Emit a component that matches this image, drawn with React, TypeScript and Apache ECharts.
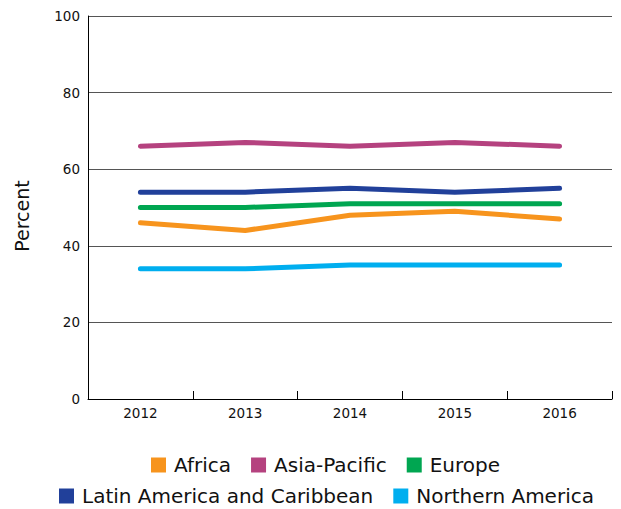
import React, { useEffect, useRef } from "react";
import * as echarts from "echarts";

const years = ["2012", "2013", "2014", "2015", "2016"];
const africa = [46, 44, 48, 49, 47];
const asiaPacific = [66, 67, 66, 67, 66];
const europe = [50, 50, 51, 51, 51];
const latinAmerica = [54, 54, 55, 54, 55];
const northernAmerica = [34, 34, 35, 35, 35];
const yAxisTitle = "Percent";

const seriesDefs = [
  { name: "Africa", data: africa, color: "#F7941D" },
  { name: "Asia-Pacific", data: asiaPacific, color: "#B5427F" },
  { name: "Europe", data: europe, color: "#00A651" },
  { name: "Latin America and Caribbean", data: latinAmerica, color: "#21409A" },
  { name: "Northern America", data: northernAmerica, color: "#00AEEF" },
];

const FONT = "'DejaVu Sans', 'Open Sans', sans-serif";

export default function App() {
  const ref = useRef<HTMLDivElement>(null);
  useEffect(() => {
    if (!ref.current) return;
    const chart = echarts.init(ref.current, undefined, { renderer: "svg" });
    const legendText = { fontSize: 20, color: "#111", fontFamily: FONT, padding: [0, 0, 0, 3] };
    chart.setOption({
      animation: false,
      grid: { left: 88, right: 9, top: 16, bottom: 110, containLabel: false },
      graphic: [
        {
          type: "text",
          x: 22,
          y: 216,
          rotation: Math.PI / 2,
          style: {
            text: yAxisTitle,
            fontSize: 19,
            fontFamily: FONT,
            fill: "#111",
            align: "center",
            verticalAlign: "middle",
          },
        },
      ],
      legend: [
        {
          data: ["Africa", "Asia-Pacific", "Europe"],
          top: 455,
          left: 151,
          padding: 0,
          icon: "rect",
          itemWidth: 15,
          itemHeight: 15,
          itemGap: 20,
          textStyle: legendText,
        },
        {
          data: ["Latin America and Caribbean", "Northern America"],
          top: 486,
          left: 59,
          padding: 0,
          icon: "rect",
          itemWidth: 15,
          itemHeight: 15,
          itemGap: 20,
          textStyle: legendText,
        },
      ],
      xAxis: {
        type: "category",
        data: years,
        boundaryGap: true,
        axisLine: { show: true, lineStyle: { color: "#000", width: 1 } },
        axisTick: { show: true, inside: true, length: 8, lineStyle: { color: "#000" } },
        axisLabel: { fontSize: 13.5, color: "#111", fontFamily: FONT, margin: 7 },
      },
      yAxis: {
        type: "value",
        min: 0,
        max: 100,
        interval: 20,
        axisLine: { show: true, lineStyle: { color: "#000", width: 1 } },
        axisTick: { show: false },
        axisLabel: { fontSize: 13.5, color: "#111", fontFamily: FONT, margin: 8 },
        splitLine: { show: true, lineStyle: { color: "#555", width: 1 } },
      },
      series: seriesDefs.map((s) => ({
        name: s.name,
        type: "line",
        data: s.data,
        symbol: "none",
        itemStyle: { color: s.color },
        lineStyle: { color: s.color, width: 5, cap: "round", join: "round" },
      })),
    });
    return () => chart.dispose();
  }, []);
  return <div ref={ref} style={{ width: 621, height: 509, position: "absolute", left: 0, top: 0 }} />;
}
